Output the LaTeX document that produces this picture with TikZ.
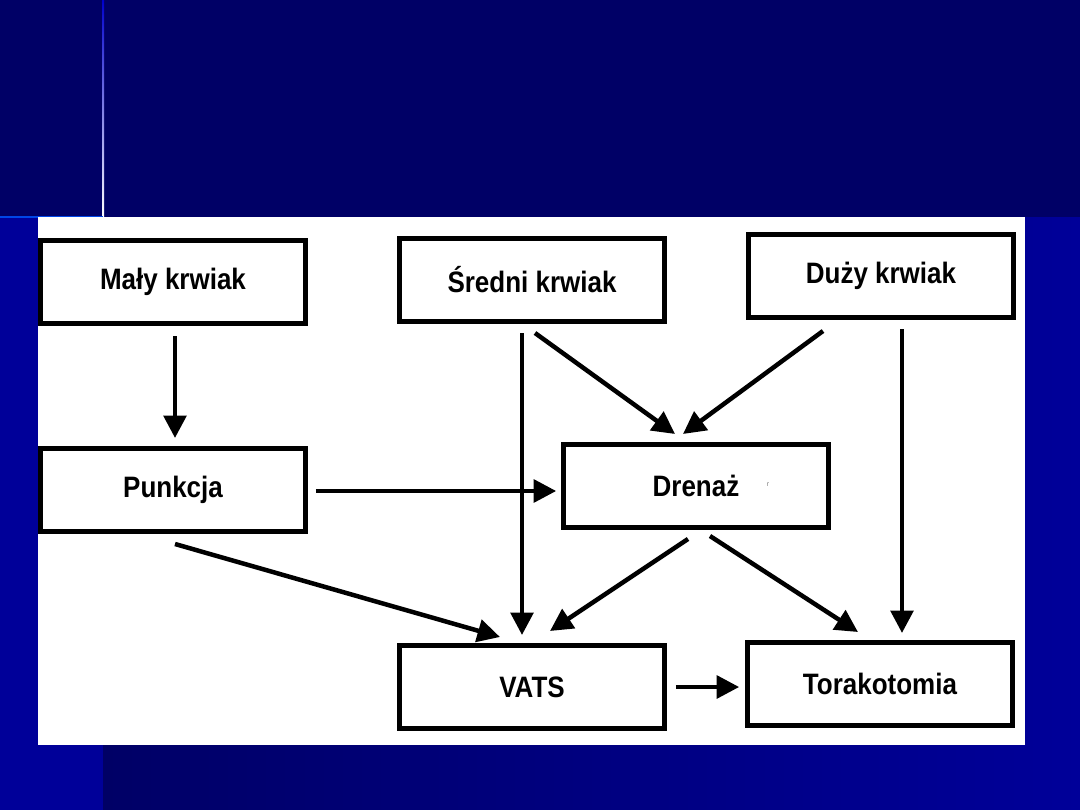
\documentclass[tikz,border=0pt]{standalone}
\usepackage{fontspec}
\setmainfont{Liberation Sans}
\newfontfamily\boxfont{Liberation Sans}[FakeStretch=0.88]
\usetikzlibrary{positioning, arrows.meta, calc}

\definecolor{navydark}{RGB}{0,0,102}
\definecolor{navybright}{RGB}{0,0,153}
\definecolor{linkblue}{RGB}{0,70,230}

\begin{document}
\begin{tikzpicture}[
    x=0.025cm, y=-0.025cm,
    % Define common styles
        box/.style={draw, rectangle, line width=3.4pt, align=center, minimum width=6.62cm, minimum height=2.08cm, inner sep=0pt, font=\boxfont\bfseries\fontsize{21}{24}\selectfont},
        arrow/.style={-{Triangle[length=16pt, width=16pt]}, line width=3.2pt}
    ]
    \useasboundingbox (0,0) rectangle (1080,810);

        % Slide background
        \fill[navydark] (0,0) rectangle (1080,810);
        \fill[navybright] (0,217) rectangle (103,810);
        \shade[left color=navydark, right color=navybright] (103,217) rectangle (1080,810);
        \shade[top color=blue!80!black, bottom color=white] (102,0) rectangle (104,217);
        \fill[linkblue] (0,216) rectangle (103,218);
        \fill[white] (38,217) rectangle (1025,745);

        % Top row
        \node[box] (maly) at (173,282) {Mały krwiak};
        \node[box] (sredni) at (532,280) {Średni krwiak};
        \node[box] (duzy) at (881,276) {Duży krwiak};

        % Middle row
        \node[box] (punkcja) at (173,490) {Punkcja};
        \node[box] (drenaz) at (696,486) {Drenaż};
        \node[text=gray, font=\tiny] (stray) at (768,485) {r};

        % Bottom row
        \node[box] (vats) at (532,687) {VATS};
        \node[box] (tora) at (880,684) {Torakotomia};

        % Arrows from the top row
        \draw[arrow] ($(maly.south)+(2,10)$) -- ($(punkcja.north)+(2,-8)$);
        \draw[arrow] ($(sredni.south)+(-10,9)$) -- ($(vats.north)+(-10,-8)$);
        \draw[arrow] ($(sredni.south)+(3,9)$) -- ($(drenaz.north)+(-21,-8)$);
        \draw[arrow] ($(duzy.south)+(-58,11)$) -- ($(drenaz.north)+(-13,-8)$);
        \draw[arrow] ($(duzy.south)+(21,9)$) -- ($(tora.north)+(22,-7)$);

        % Arrows from the middle row
        \draw[arrow] ($(punkcja.east)+(8,1)$) -- ($(drenaz.west)+(-5,5)$);
        \draw[arrow] ($(punkcja.south)+(2,10)$) -- ($(vats.north)+(-32,-6)$);
        \draw[arrow] ($(drenaz.south)+(-8,9)$) -- ($(vats.north)+(18,-12)$);
        \draw[arrow] ($(drenaz.south)+(14,6)$) -- ($(tora.north)+(-22,-8)$);

        % Bottom arrow
        \draw[arrow] ($(vats.east)+(9,0)$) -- ($(tora.west)+(-6,3)$);

    \end{tikzpicture}
\end{document}
